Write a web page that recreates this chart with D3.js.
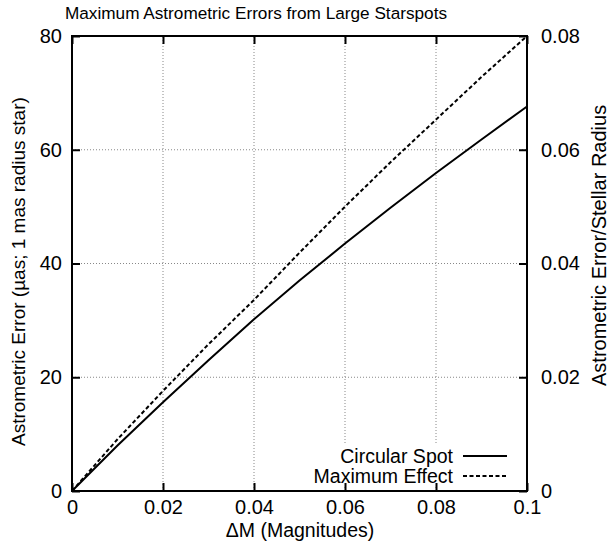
<!DOCTYPE html>
<html>
<head>
<title>Maximum Astrometric Errors from Large Starspots</title>
<script src="https://d3js.org/d3.v7.min.js"></script>
<style type="text/css">
	body { margin: 0; background: #fff; }
	svg text { font-family: "Liberation Sans", Arial, Helvetica, sans-serif; fill: #000; }
	.tick-label { font-size: 20px; }
	.axis-label { font-size: 19.5px; }
	.title { font-size: 17.2px; }
	.grid { stroke: #888; stroke-width: 1; stroke-dasharray: 1,2; }
</style>
</head>
<body>
<div id="chart"></div>
<script type="text/javascript">
var svg_width = 610;
var svg_height = 545;
var margin = {top: 36, right: 83, bottom: 54, left: 72};

// values
var deltaM = [0, 0.01, 0.02, 0.03, 0.04, 0.05, 0.06, 0.07, 0.08, 0.09, 0.1];
var circularSpot = [0, 8.0, 15.6, 23.0, 30.2, 37.0, 43.5, 49.8, 55.9, 61.8, 67.6];
var maximumEffect = [0, 9.1, 17.6, 25.8, 33.6, 41.9, 50.0, 57.8, 65.3, 72.8, 80.0];

var xTicks = [0, 0.02, 0.04, 0.06, 0.08, 0.1];
var xTickLabels = ["0", "0.02", "0.04", "0.06", "0.08", "0.1"];
var yTicks = [0, 20, 40, 60, 80];
var yTickLabels = ["0", "20", "40", "60", "80"];
var y2Ticks = [0, 0.02, 0.04, 0.06, 0.08];
var y2TickLabels = ["0", "0.02", "0.04", "0.06", "0.08"];

var series = [
	{name: "Circular Spot", values: circularSpot, dash: null},
	{name: "Maximum Effect", values: maximumEffect, dash: "4,2.5"}
];

var svg = d3.select("#chart")
	.append("svg")
	.attr("width", svg_width)
	.attr("height", svg_height);

var x = d3.scaleLinear().domain([0, 0.1]).range([margin.left, svg_width - margin.right]);
var y = d3.scaleLinear().domain([0, 80]).range([svg_height - margin.bottom, margin.top]);
var y2 = d3.scaleLinear().domain([0, 0.08]).range([svg_height - margin.bottom, margin.top]);

// grid
var grid = svg.append("g");
grid.selectAll(".gx")
	.data(xTicks.slice(1, -1))
	.enter().append("line")
	.attr("class", "grid")
	.attr("x1", function(d) { return x(d); })
	.attr("x2", function(d) { return x(d); })
	.attr("y1", y(0))
	.attr("y2", y(80));
grid.selectAll(".gy")
	.data(yTicks.slice(1, -1))
	.enter().append("line")
	.attr("class", "grid")
	.attr("x1", x(0))
	.attr("x2", x(0.1))
	.attr("y1", function(d) { return y(d); })
	.attr("y2", function(d) { return y(d); });

// legend background hides the grid
var legendX = 453, legendY = 456, legendStep = 20;
svg.append("rect")
	.attr("x", 300)
	.attr("y", legendY - 11)
	.attr("width", x(0.1) - 300 - 10)
	.attr("height", legendStep + 22)
	.attr("fill", "#fff");

// curves
var line = d3.line()
	.x(function(d, i) { return x(deltaM[i]); })
	.y(function(d) { return y(d); });

svg.selectAll(".curve")
	.data(series)
	.enter().append("path")
	.attr("class", "curve")
	.attr("d", function(s) { return line(s.values); })
	.attr("fill", "none")
	.attr("stroke", "#000")
	.attr("stroke-width", 2)
	.attr("stroke-dasharray", function(s) { return s.dash; });

// legend
var legend = svg.selectAll(".legend")
	.data(series)
	.enter().append("g")
	.attr("class", "legend")
	.attr("transform", function(s, i) { return "translate(0," + (legendY + i * legendStep) + ")"; });
legend.append("text")
	.attr("class", "axis-label")
	.attr("x", legendX)
	.attr("dy", "0.36em")
	.attr("text-anchor", "end")
	.text(function(s) { return s.name; });
legend.append("line")
	.attr("x1", legendX + 10)
	.attr("x2", legendX + 54)
	.attr("stroke", "#000")
	.attr("stroke-width", 2)
	.attr("stroke-dasharray", function(s) { return s.dash; });

// axes, ticks pointing inwards on all four sides
function styleAxis(g) {
	g.select(".domain").remove();
	g.selectAll(".tick line").attr("stroke", "#000").attr("stroke-width", 2);
	g.selectAll(".tick text").attr("class", "tick-label").attr("font-size", null).attr("font-family", null);
}

svg.append("g")
	.attr("transform", "translate(0," + y(0) + ")")
	.call(d3.axisBottom(x).tickValues(xTicks).tickSize(-8).tickPadding(9)
		.tickFormat(function(d, i) { return xTickLabels[i]; }))
	.call(styleAxis);
svg.append("g")
	.attr("transform", "translate(0," + y(80) + ")")
	.call(d3.axisTop(x).tickValues(xTicks).tickSize(-8).tickFormat(""))
	.call(styleAxis);
svg.append("g")
	.attr("transform", "translate(" + x(0) + ",0)")
	.call(d3.axisLeft(y).tickValues(yTicks).tickSize(-8).tickPadding(10)
		.tickFormat(function(d, i) { return yTickLabels[i]; }))
	.call(styleAxis);
svg.append("g")
	.attr("transform", "translate(" + x(0.1) + ",0)")
	.call(d3.axisRight(y2).tickValues(y2Ticks).tickSize(-8).tickPadding(14)
		.tickFormat(function(d, i) { return y2TickLabels[i]; }))
	.call(styleAxis);

// frame
svg.append("rect")
	.attr("x", x(0))
	.attr("y", y(80))
	.attr("width", x(0.1) - x(0))
	.attr("height", y(0) - y(80))
	.attr("fill", "none")
	.attr("stroke", "#000")
	.attr("stroke-width", 2);

// titles
svg.append("text")
	.attr("class", "title")
	.attr("x", 256)
	.attr("y", 19)
	.attr("text-anchor", "middle")
	.text("Maximum Astrometric Errors from Large Starspots");
svg.append("text")
	.attr("class", "axis-label")
	.attr("x", 300)
	.attr("y", 537)
	.attr("text-anchor", "middle")
	.text("\u0394M (Magnitudes)");
svg.append("text")
	.attr("class", "axis-label")
	.attr("transform", "translate(25,446) rotate(-90)")
	.attr("text-anchor", "start")
	.style("font-size", "19px")
	.text("Astrometric Error (\u00b5as; 1 mas radius star)");
svg.append("text")
	.attr("class", "axis-label")
	.attr("transform", "translate(606,386) rotate(-90)")
	.attr("text-anchor", "start")
	.style("font-size", "20px")
	.text("Astrometric Error/Stellar Radius");
</script>
</body>
</html>
